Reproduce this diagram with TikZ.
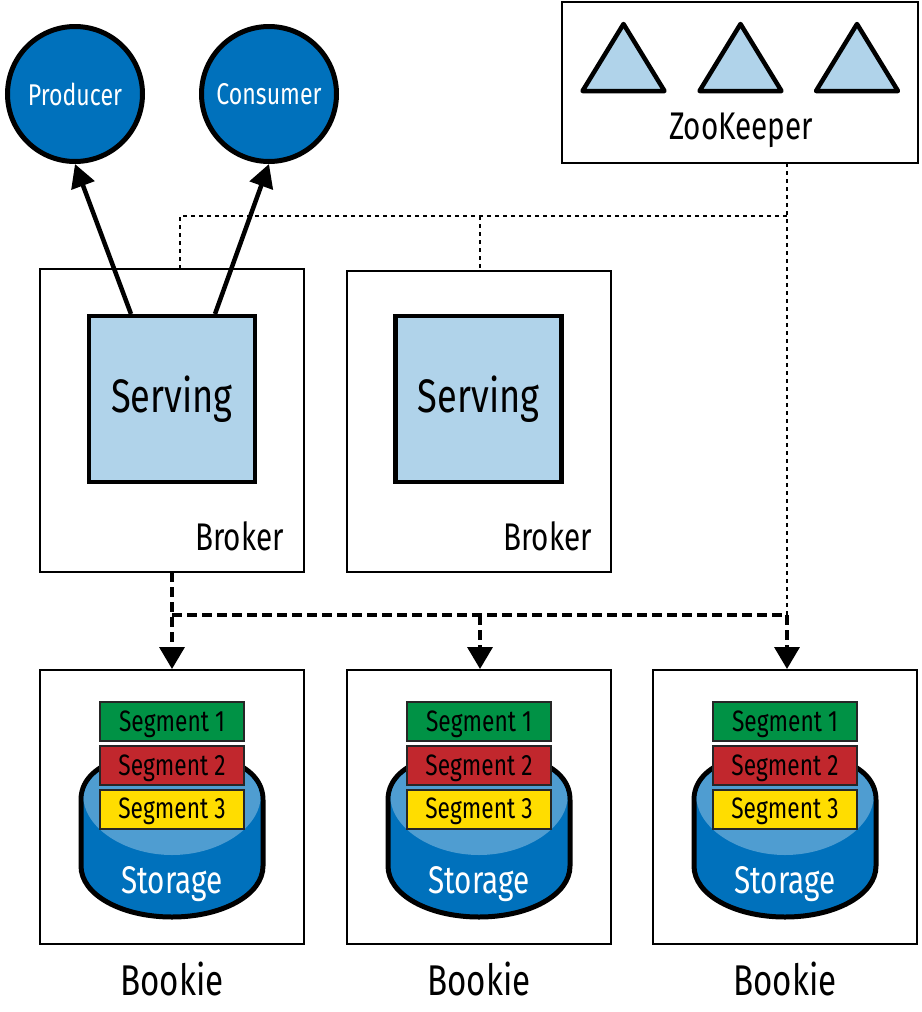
\documentclass[tikz,border=0pt]{standalone}
\usepackage{fontspec}
\setmainfont[FakeStretch=0.77]{Fira Sans}
\usetikzlibrary{arrows.meta}
\definecolor{bluemain}{HTML}{0071BC}
\definecolor{bluelight}{HTML}{B0D3EA}
\definecolor{bluetop}{HTML}{4F9DD1}
\definecolor{seggreen}{HTML}{009245}
\definecolor{segred}{HTML}{C1272D}
\definecolor{segyellow}{HTML}{FFDD00}
\newcommand{\fsz}[1]{\fontsize{#1}{#1}\selectfont}
\tikzset{
  x=1pt,y=-1pt,
  frame/.style={draw=black,line width=2pt,fill=white,inner sep=0pt,outer sep=0pt},
  servingbox/.style={draw=black,line width=4.5pt,fill=bluelight,minimum width=166pt,minimum height=166pt,inner sep=0pt,outer sep=0pt,font=\fsz{47},text=black},
  client/.style={circle,draw=black,line width=5pt,fill=bluemain,minimum size=135pt,inner sep=0pt,outer sep=2.5pt,font=\fsz{30},text=white},
  segbox/.style={draw=black!85,line width=2pt,minimum width=144pt,minimum height=39pt,inner sep=0pt,outer sep=0pt,font=\fsz{29.5},text=black,text height=22pt,text depth=3pt},
  solidarrow/.style={line width=4.5pt,-{Triangle[length=23pt,width=24pt]},shorten >=0pt},
  heavydash/.style={line width=3.6pt,dash pattern=on 10pt off 5pt},
  heavytip/.style={heavydash,-{Triangle[length=22pt,width=25pt]}},
  thindot/.style={line width=2pt,dash pattern=on 4pt off 4pt},
  tri/.style={draw=black,line width=4.5pt,fill=bluelight,line join=round},
  label/.style={inner sep=0pt,text=black}
}
\begin{document}
\begin{tikzpicture}
\useasboundingbox (0,0) rectangle (921,1012);

% ZooKeeper
\node[frame,minimum width=356pt,minimum height=161pt] (zk) at (740,82.5) {};
\foreach \a in {623.5,740.5,857}{
  \draw[tri] (\a,24) -- (\a+41,91) -- (\a-41,91) -- cycle;
}
\node[label,font=\fsz{38.5}] (zklabel) at (741,130) {ZooKeeper};

% Clients
\node[client] (producer) at (75,94) {Producer};
\node[client] (consumer) at (269,94) {Consumer};

% thin dotted connections behind boxes
\coordinate (zkout) at (787,163);
\coordinate (junc) at (787,216);
\coordinate (storej) at (787,615);
\coordinate (c1) at (180,216);
\coordinate (c2) at (480,216);
\coordinate (b1top) at (180,269);
\coordinate (b2top) at (480,271);
\draw[thindot] (zkout) -- (junc) -- (storej);
\draw[thindot] (junc) -- (c1) -- (b1top);
\draw[thindot] (c2) -- (b2top);

% Brokers
\node[frame,minimum width=264pt,minimum height=303pt] (broker1) at (172,420.5) {};
\node[frame,minimum width=264pt,minimum height=301pt] (broker2) at (479,421.5) {};
\node[servingbox] (serving1) at (172,399) {\raisebox{-1pt}{Serving}};
\node[servingbox] (serving2) at (478.7,399) {\raisebox{-1pt}{Serving}};
\node[label,font=\fsz{38.5},anchor=base east] (brokerl1) at (284,550) {Broker};
\node[label,font=\fsz{38.5},anchor=base east] (brokerl2) at (592,550) {Broker};

% Client arrows
\coordinate (s1a) at (131,314);
\coordinate (s1b) at (215,314);
\draw[solidarrow] (s1a) -- (producer.south);
\draw[solidarrow] (s1b) -- (consumer.south);

% Bookies
\foreach \i/\c in {1/172,2/479,3/785}{
  \node[frame,minimum width=264pt,minimum height=274pt] (bookie\i) at (\c,807) {};
  \begin{scope}[shift={(\c,0)}]
    \draw[line width=5pt,fill=bluemain] (-91,800) .. controls (-91,765) and (-45,752) .. (0,752)
      .. controls (45,752) and (91,765) .. (91,800) -- (91,866)
      .. controls (91,895) and (50,917) .. (0,917)
      .. controls (-50,917) and (-91,895) .. (-91,866) -- cycle;
    \fill[bluetop] (-88.5,800) .. controls (-88.5,768) and (-45,754.5) .. (0,754.5)
      .. controls (45,754.5) and (88.5,768) .. (88.5,800)
      .. controls (85,830) and (45,855) .. (0,855)
      .. controls (-45,855) and (-85,830) .. (-88.5,800) -- cycle;
  \end{scope}
  \node[segbox,fill=seggreen] (seg1\i) at (\c,721.6) {Segment 1};
  \node[segbox,fill=segred] (seg2\i) at (\c,765.6) {Segment 2};
  \node[segbox,fill=segyellow] (seg3\i) at (\c,809.3) {Segment 3};
  \node[label,text=white,font=\fsz{38.5}] (stor\i) at (\c,884) {Storage};
  \node[label,font=\fsz{43}] (bk\i) at (\c,979) {Bookie};
}

% Heavy dashed connections
\coordinate (h1) at (172,615);
\coordinate (h2) at (480,615);
\coordinate (t1) at (172,669);
\coordinate (t2) at (480,669);
\coordinate (t3) at (787,669);
\coordinate (bout) at (172,572);
\draw[heavydash] (h1) -- (storej);
\draw[heavytip] (bout) -- (t1);
\draw[heavytip] (h2) -- (t2);
\draw[heavytip] (storej) -- (t3);
\end{tikzpicture}
\end{document}
